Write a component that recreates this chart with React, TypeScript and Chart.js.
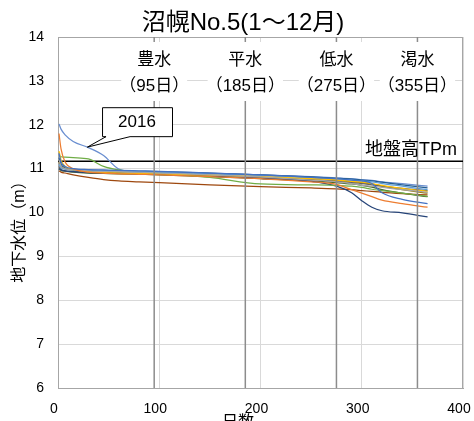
import React, { useEffect, useRef } from 'react';
import { Chart, registerables } from 'chart.js';

Chart.register(...registerables);

const FONT = "'Liberation Sans', 'Noto Sans CJK JP', sans-serif";

// day of year
const days = [1, 3, 7, 15, 30, 45, 60, 80, 100, 150, 200, 250, 275, 290, 300, 310, 320, 340, 365];

const y2004 = [11.35, 11.15, 11.05, 11.0, 10.98, 10.97, 10.96, 10.95, 10.94, 10.9, 10.86, 10.8, 10.77, 10.74, 10.72, 10.66, 10.45, 10.3, 10.2];
const y2005 = [11.8, 11.45, 11.15, 11.0, 10.92, 10.9, 10.88, 10.87, 10.86, 10.82, 10.77, 10.7, 10.64, 10.52, 10.44, 10.36, 10.28, 10.2, 10.12];
const y2006 = [11.2, 11.05, 11.0, 10.97, 10.95, 10.94, 10.93, 10.92, 10.9, 10.86, 10.81, 10.74, 10.7, 10.66, 10.62, 10.6, 10.57, 10.52, 10.46];
const y2007 = [11.4, 11.2, 11.05, 10.98, 10.93, 10.91, 10.9, 10.89, 10.88, 10.85, 10.82, 10.77, 10.74, 10.71, 10.69, 10.66, 10.62, 10.55, 10.48];
const y2008 = [11.1, 11.02, 10.99, 10.97, 10.96, 10.95, 10.94, 10.93, 10.92, 10.88, 10.84, 10.79, 10.76, 10.74, 10.72, 10.7, 10.66, 10.6, 10.52];
const y2009 = [11.3, 11.27, 11.26, 11.25, 11.22, 11.05, 10.97, 10.93, 10.9, 10.8, 10.65, 10.63, 10.62, 10.6, 10.57, 10.53, 10.5, 10.44, 10.37];
const y2010 = [11.0, 10.97, 10.95, 10.93, 10.91, 10.9, 10.89, 10.88, 10.87, 10.83, 10.78, 10.71, 10.6, 10.45, 10.27, 10.12, 10.04, 9.99, 9.9];
const y2011 = [10.95, 10.92, 10.9, 10.86, 10.8, 10.75, 10.72, 10.7, 10.68, 10.63, 10.59, 10.56, 10.54, 10.52, 10.5, 10.48, 10.46, 10.43, 10.4];
const y2012 = [11.05, 10.98, 10.95, 10.93, 10.92, 10.91, 10.9, 10.89, 10.88, 10.85, 10.8, 10.74, 10.71, 10.68, 10.66, 10.63, 10.6, 10.55, 10.5];
const y2013 = [11.15, 11.05, 11.0, 10.96, 10.93, 10.91, 10.9, 10.89, 10.88, 10.84, 10.8, 10.75, 10.73, 10.7, 10.68, 10.65, 10.6, 10.52, 10.44];
const y2014 = [11.25, 11.1, 11.02, 10.99, 10.97, 10.96, 10.95, 10.94, 10.93, 10.9, 10.86, 10.81, 10.78, 10.76, 10.74, 10.72, 10.69, 10.63, 10.56];
const y2015 = [11.0, 10.96, 10.94, 10.92, 10.9, 10.89, 10.88, 10.87, 10.86, 10.82, 10.77, 10.72, 10.68, 10.65, 10.62, 10.58, 10.52, 10.44, 10.36];
const y2016 = [12.02, 11.9, 11.77, 11.62, 11.48, 11.3, 10.99, 10.92, 10.91, 10.89, 10.86, 10.82, 10.79, 10.77, 10.75, 10.73, 10.7, 10.66, 10.6];

const seriesNames = ['2004', '2005', '2006', '2007', '2008', '2009', '2010', '2011', '2012', '2013', '2014', '2015', '2016'];
const seriesValues = [y2004, y2005, y2006, y2007, y2008, y2009, y2010, y2011, y2012, y2013, y2014, y2015, y2016];
const seriesColors = ['#4472C4', '#ED7D31', '#A5A5A5', '#FFC000', '#5B9BD5', '#70AD47', '#264478', '#9E480E', '#636363', '#997300', '#255E91', '#43682B', '#698ED0'];

const seasonDays = [95, 185, 275, 355];
const seasonNames = ['豊水', '平水', '低水', '渇水'];
const seasonCounts = ['（95日）', '（185日）', '（275日）', '（355日）'];

const groundLevel = 11.17;
const groundLabel = '地盤高TPm';

const calloutYear = '2016';
const calloutTip = { x: 29, y: 11.49 };
const calloutBox = { x0: 43.5, x1: 112.6, y0: 12.4, y1: 11.74 };

const titleText = '沼幌No.5(1～12月)';
const yTitle = '地下水位（m）';
const xTitle = '日数';

const xMin = 0, xMax = 400, xStep = 100;
const yMin = 6, yMax = 14, yStep = 1;

const overlayPlugin = {
  id: 'overlay',
  beforeDatasetsDraw(chart: any) {
    const { ctx, chartArea } = chart;
    ctx.save();
    ctx.strokeStyle = '#A6A6A6';
    ctx.lineWidth = 1;
    ctx.strokeRect(chartArea.left + 0.5, chartArea.top + 0.5, chartArea.right - chartArea.left - 1, chartArea.bottom - chartArea.top);
    ctx.restore();
  },
  afterDatasetsDraw(chart: any) {
    const { ctx, chartArea, scales } = chart;
    const xs = scales.x, ys = scales.y;
    ctx.save();
    // season labels with white background
    ctx.font = `17px ${FONT}`;
    ctx.textAlign = 'center';
    ctx.textBaseline = 'middle';
    seasonDays.forEach((d, i) => {
      const cx = xs.getPixelForValue(d);
      const w = Math.max(ctx.measureText(seasonNames[i]).width, ctx.measureText(seasonCounts[i]).width) - 4;
      ctx.fillStyle = '#fff';
      ctx.fillRect(cx - w / 2, chartArea.top + 5, w, 59);
      ctx.fillStyle = '#000';
      ctx.fillText(seasonNames[i], cx, chartArea.top + 23);
      ctx.fillText(seasonCounts[i], cx, chartArea.top + 49);
    });
    // ground level label
    ctx.font = `18px ${FONT}`;
    ctx.textAlign = 'right';
    ctx.textBaseline = 'alphabetic';
    ctx.fillText(groundLabel, chartArea.right - 6, ys.getPixelForValue(groundLevel) - 6);
    // callout
    const bx0 = xs.getPixelForValue(calloutBox.x0);
    const bx1 = xs.getPixelForValue(calloutBox.x1);
    const by0 = ys.getPixelForValue(calloutBox.y0);
    const by1 = ys.getPixelForValue(calloutBox.y1);
    const tx = xs.getPixelForValue(calloutTip.x);
    const ty = ys.getPixelForValue(calloutTip.y);
    ctx.beginPath();
    ctx.moveTo(bx0 + 0.5, by0 + 0.5);
    ctx.lineTo(bx1 + 0.5, by0 + 0.5);
    ctx.lineTo(bx1 + 0.5, by1 + 0.5);
    ctx.lineTo(bx0 + 28, by1 + 0.5);
    ctx.lineTo(tx, ty);
    ctx.lineTo(bx0 + 4, by1 + 0.5);
    ctx.lineTo(bx0 + 0.5, by1 + 0.5);
    ctx.closePath();
    ctx.fillStyle = '#fff';
    ctx.fill();
    ctx.strokeStyle = '#000';
    ctx.lineWidth = 1;
    ctx.stroke();
    ctx.fillStyle = '#000';
    ctx.font = `17px ${FONT}`;
    ctx.textAlign = 'center';
    ctx.textBaseline = 'middle';
    ctx.fillText(calloutYear, (bx0 + bx1) / 2, (by0 + by1) / 2 + 1);
    ctx.restore();
  },
  afterDraw(chart: any) {
    const { ctx } = chart;
    ctx.save();
    ctx.fillStyle = '#000';
    ctx.font = `24px ${FONT}`;
    ctx.textAlign = 'center';
    ctx.textBaseline = 'alphabetic';
    ctx.fillText(titleText, 243, 30);
    ctx.font = `16px ${FONT}`;
    ctx.textBaseline = 'top';
    ctx.fillText(xTitle, 238, 415);
    ctx.translate(20, 228);
    ctx.rotate(-Math.PI / 2);
    ctx.textBaseline = 'middle';
    ctx.fillText(yTitle, 0, 0);
    ctx.restore();
  },
};

export default function App() {
  const ref = useRef<HTMLCanvasElement | null>(null);
  useEffect(() => {
    if (!ref.current) return;
    const dataSets: any[] = seriesValues.map((vals, i) => ({
      label: seriesNames[i],
      data: days.map((d, j) => ({ x: d, y: vals[j] })),
      borderColor: seriesColors[i],
      backgroundColor: seriesColors[i],
      borderWidth: 1.25,
      pointRadius: 0,
      cubicInterpolationMode: 'monotone',
      fill: false,
      order: 1,
    }));
    dataSets.push({
      label: 'ground',
      data: [{ x: xMin, y: groundLevel }, { x: xMax, y: groundLevel }],
      borderColor: '#000',
      borderWidth: 1.5,
      pointRadius: 0,
      order: 2,
    });
    seasonDays.forEach((d) => {
      dataSets.push({
        label: 'season' + d,
        data: [{ x: d, y: yMin }, { x: d, y: yMax }],
        borderColor: '#8C8C8C',
        borderWidth: 1.5,
        pointRadius: 0,
        order: 0,
      });
    });
    const chart = new Chart(ref.current, {
      type: 'line',
      data: { datasets: dataSets },
      options: {
        responsive: false,
        animation: false,
        layout: { padding: { left: 0, top: 37, right: 11, bottom: 0 } },
        plugins: { legend: { display: false }, tooltip: { enabled: false }, title: { display: false } },
        scales: {
          x: {
            type: 'linear',
            min: xMin,
            max: xMax,
            afterFit: (s: any) => { s.height = 33; s.paddingLeft = 0; s.paddingRight = 0; },
            ticks: { stepSize: xStep, padding: 13, labelOffset: -4, color: '#000', font: { family: FONT, size: 14 } },
            grid: { color: '#D9D9D9', drawTicks: false },
            border: { display: true, color: '#A6A6A6' },
          },
          y: {
            type: 'linear',
            min: yMin,
            max: yMax,
            afterFit: (s: any) => { s.width = 58; s.paddingTop = 0; s.paddingBottom = 0; },
            ticks: { stepSize: yStep, padding: 14, color: '#000', font: { family: FONT, size: 14 } },
            grid: { color: '#D9D9D9', drawTicks: false },
            border: { display: true, color: '#A6A6A6' },
          },
        },
      },
      plugins: [overlayPlugin],
    });
    return () => chart.destroy();
  }, []);
  return (
    <div style={{ position: 'absolute', left: 0, top: 0, width: 474, height: 421, background: '#fff' }}>
      <canvas ref={ref} width={474} height={421} />
    </div>
  );
}
